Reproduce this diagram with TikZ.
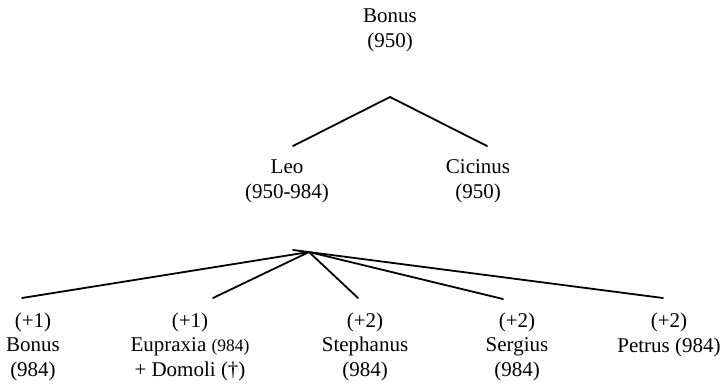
\documentclass[tikz,border=0pt]{standalone}
\usepackage{fontspec}
\setmainfont{Liberation Serif}
\begin{document}
\begin{tikzpicture}[x=1pt,y=-1pt,
  person/.style={align=center, anchor=base, inner sep=0pt,
    font=\fontsize{21}{24.5}\selectfont},
  branch/.style={line width=1.8pt, line cap=round}]
\path[use as bounding box] (0,0) rectangle (725,383);

% family members (anchored at the baseline of the last line)
\node[person] (bonus)     at (390,47)  {Bonus\\(950)};
\node[person] (leo)       at (287,198) {Leo\\(950-984)};
\node[person] (cicinus)   at (478,198) {Cicinus\\(950)};
\node[person] (bonusII)   at (33,376)  {(+1)\\Bonus\\(984)};
\node[person] (eupraxia)  at (190,376) {(+1)\\Eupraxia {\fontsize{17.5}{20}\selectfont(984)}\\+ Domoli (†)};
\node[person] (stephanus) at (365,376) {(+2)\\Stephanus\\(984)};
\node[person] (sergius)   at (517,376) {(+2)\\Sergius\\(984)};
\node[person] (petrus)    at (669,352) {(+2)\\Petrus (984)};

% branching points and line ends
\coordinate (topfork) at (390,97);
\coordinate (leoend) at (293,146);
\coordinate (cicend) at (487,146);
\coordinate (lowfork) at (309,252);
\coordinate (petstart) at (293,250);
\coordinate (c1) at (22,298);
\coordinate (c2) at (213,298);
\coordinate (c3) at (358,298);
\coordinate (c4) at (503,299);
\coordinate (c5) at (663,298);

% branches
\draw[branch] (leoend) -- (topfork) -- (cicend);
\draw[branch] (lowfork) -- (c1);
\draw[branch] (lowfork) -- (c2);
\draw[branch] (lowfork) -- (c3);
\draw[branch] (lowfork) -- (c4);
\draw[branch] (petstart) -- (c5);
\end{tikzpicture}
\end{document}
